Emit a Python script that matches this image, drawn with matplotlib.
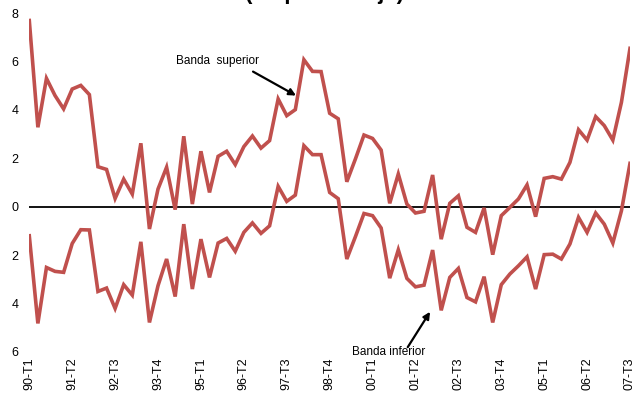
import numpy as np
import matplotlib
matplotlib.use('Agg')
import matplotlib.pyplot as plt
from matplotlib.ticker import FuncFormatter


###===== DATA =====####

# quarterly periods 90-T1 .. 07-T3
years = ['90', '91', '92', '93', '94', '95', '96', '97', '98', '99',
         '00', '01', '02', '03', '04', '05', '06', '07']
periods = [y + '-T' + str(q) for y in years for q in range(1, 5)][:71]

upper = [7.69, 3.28, 5.30, 4.59, 4.04, 4.86, 5.01, 4.63, 1.65, 1.54,
         0.34, 1.14, 0.52, 2.62, -0.92, 0.73, 1.63, -0.12, 2.91, 0.11,
         2.29, 0.59, 2.08, 2.29, 1.74, 2.48, 2.92, 2.42, 2.73, 4.45,
         3.76, 4.01, 6.07, 5.59, 5.58, 3.86, 3.63, 1.03, 1.97, 2.96,
         2.82, 2.34, 0.14, 1.35, 0.11, -0.26, -0.19, 1.31, -1.34, 0.14,
         0.45, -0.85, -1.06, -0.05, -1.98, -0.37, -0.03, 0.32, 0.90, -0.41,
         1.17, 1.24, 1.14, 1.83, 3.18, 2.75, 3.72, 3.35, 2.75, 4.31,
         6.54]

lower = [-1.20, -4.82, -2.51, -2.67, -2.71, -1.52, -0.95, -0.96, -3.50, -3.36,
         -4.20, -3.22, -3.65, -1.45, -4.78, -3.26, -2.16, -3.71, -0.72, -3.40,
         -1.34, -2.92, -1.50, -1.31, -1.84, -1.06, -0.67, -1.10, -0.79, 0.84,
         0.22, 0.48, 2.52, 2.15, 2.15, 0.59, 0.33, -2.16, -1.24, -0.28,
         -0.37, -0.88, -2.95, -1.78, -2.96, -3.31, -3.24, -1.79, -4.28, -2.92,
         -2.55, -3.75, -3.93, -2.89, -4.78, -3.22, -2.78, -2.44, -2.07, -3.40,
         -1.98, -1.96, -2.16, -1.54, -0.44, -1.06, -0.26, -0.72, -1.50, -0.17,
         1.79]

yticks = [8, 6, 4, 2, 0, -2, -4, -6]


###===== PLOT =====####

plt.rcParams['font.family'] = ['Liberation Sans', 'DejaVu Sans']

fig = plt.figure(figsize=(6.42, 3.93), dpi=100)
ax = fig.add_axes([29.3 / 642, 1 - 352 / 393, (630 - 29.3) / 642, (352 - 13) / 393])

x = np.arange(len(periods))
red = '#C0504D'
ax.plot(x, upper, color=red, lw=2.6, solid_joinstyle='miter')
ax.plot(x, lower, color=red, lw=2.6, solid_joinstyle='miter')
ax.axhline(0, color='black', lw=1.3, zorder=1)

ax.set_xlim(0, len(periods) - 1)
ax.set_ylim(-6, 8)
ax.set_yticks(yticks)
ax.yaxis.set_major_formatter(FuncFormatter(lambda v, p: '%d' % abs(v)))
ax.set_xticks(x[::5])
ax.set_xticklabels(periods[::5], rotation=90)
ax.tick_params(axis='y', length=0, pad=8, labelsize=9)
ax.tick_params(axis='x', length=0, pad=4, labelsize=9)
for s in ax.spines.values():
    s.set_visible(False)

# band labels and their arrows
arrow = dict(arrowstyle='-|>', color='black', lw=1.6, mutation_scale=10,
             shrinkA=0, shrinkB=0)
ax.text(26.8, 6.0, 'Banda  superior', fontsize=8.5, ha='right', va='center')
ax.annotate('', xy=(31.08, 4.59), xytext=(26.07, 5.58), arrowprops=arrow)
ax.text(41.9, -6.0, 'Banda inferior', fontsize=8.5, ha='center', va='center')
ax.annotate('', xy=(46.7, -4.34), xytext=(44.1, -5.8), arrowprops=arrow)

fig.text(0.506, 1.0 + 1.5 / 393, '(en porcentaje)', ha='center', va='baseline',
         fontsize=16, fontweight='bold')

fig.savefig('out.png', dpi=100)
